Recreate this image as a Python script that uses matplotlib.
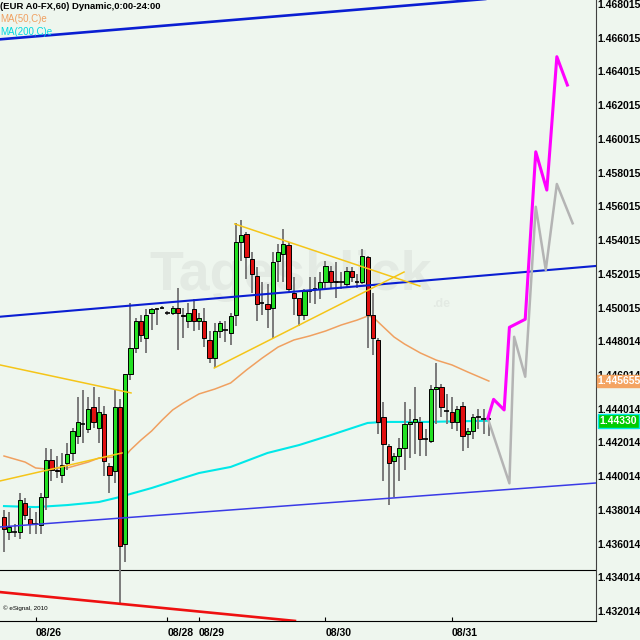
import matplotlib
matplotlib.use('Agg')
import matplotlib.pyplot as plt
import matplotlib.transforms as mtransforms
import numpy as np

plt.rcParams['font.family'] = ['Liberation Sans', 'DejaVu Sans']

# --- VELAS HORARIAS EUR/USD ---
apertura = [1.4376, 1.4367, 1.4367, 1.4367, 1.4384, 1.4375, 1.4372, 1.4371, 1.4388, 1.4410,
            1.4404, 1.4401, 1.4408, 1.4414, 1.4424, 1.4431, 1.4428, 1.4441, 1.4429, 1.4437,
            1.4406, 1.4403, 1.4441, 1.4360, 1.4461, 1.4476, 1.4492, 1.4482, 1.4497, 1.4499,
            1.4500, 1.4497, 1.4497, 1.4500, 1.4496, 1.4492, 1.4499, 1.4492, 1.4492, 1.4481,
            1.4470, 1.4486, 1.4487, 1.4485, 1.4496, 1.4539, 1.4544, 1.4529, 1.4519, 1.4503,
            1.4502, 1.4500, 1.4528, 1.4532, 1.4537, 1.4509, 1.4506, 1.4496, 1.4510, 1.4511,
            1.4511, 1.4515, 1.4522, 1.4516, 1.4515, 1.4514, 1.4522, 1.4515, 1.4515, 1.4530,
            1.4496, 1.4481, 1.4435, 1.4418, 1.4409, 1.4412, 1.4417, 1.4431, 1.4432, 1.4432,
            1.4422, 1.4421, 1.4452, 1.4453, 1.4439, 1.4438, 1.4432, 1.4442, 1.4425, 1.4427,
            1.4435, 1.4434, 1.4434]
maximo = [1.4380, 1.4379, 1.4372, 1.4390, 1.4387, 1.4381, 1.4379, 1.4390, 1.4417, 1.4416,
          1.4412, 1.4414, 1.4420, 1.4429, 1.4447, 1.4451, 1.4447, 1.4453, 1.4447, 1.4442,
          1.4408, 1.4451, 1.4446, 1.4461, 1.4503, 1.4494, 1.4496, 1.4499, 1.4500, 1.4500,
          1.4501, 1.4498, 1.4501, 1.4512, 1.4500, 1.4503, 1.4505, 1.4497, 1.4500, 1.4486,
          1.4491, 1.4492, 1.4492, 1.4497, 1.4550, 1.4552, 1.4545, 1.4533, 1.4524, 1.4515,
          1.4514, 1.4533, 1.4538, 1.4547, 1.4539, 1.4518, 1.4506, 1.4511, 1.4518, 1.4518,
          1.4521, 1.4528, 1.4525, 1.4527, 1.4521, 1.4524, 1.4524, 1.4520, 1.4535, 1.4531,
          1.4509, 1.4482, 1.4444, 1.4419, 1.4414, 1.4423, 1.4444, 1.4440, 1.4453, 1.4435,
          1.4428, 1.4454, 1.4467, 1.4455, 1.4449, 1.4447, 1.4442, 1.4444, 1.4429, 1.4437,
          1.4440, 1.4440, 1.4437]
minimo = [1.4355, 1.4362, 1.4364, 1.4363, 1.4374, 1.4366, 1.4366, 1.4366, 1.4380, 1.4397,
          1.4399, 1.4396, 1.4404, 1.4409, 1.4419, 1.4420, 1.4426, 1.4429, 1.4420, 1.4400,
          1.4390, 1.4396, 1.4325, 1.4349, 1.4457, 1.4473, 1.4480, 1.4473, 1.4487, 1.4490,
          1.4499, 1.4496, 1.4496, 1.4475, 1.4482, 1.4488, 1.4486, 1.4487, 1.4477, 1.4467,
          1.4464, 1.4482, 1.4480, 1.4478, 1.4489, 1.4528, 1.4517, 1.4509, 1.4492, 1.4496,
          1.4488, 1.4482, 1.4515, 1.4515, 1.4509, 1.4496, 1.4489, 1.4493, 1.4503, 1.4502,
          1.4505, 1.4511, 1.4511, 1.4506, 1.4511, 1.4512, 1.4515, 1.4512, 1.4514, 1.4476,
          1.4472, 1.4425, 1.4397, 1.4383, 1.4388, 1.4397, 1.4404, 1.4411, 1.4413, 1.4412,
          1.4412, 1.4420, 1.4431, 1.4435, 1.4431, 1.4428, 1.4427, 1.4415, 1.4417, 1.4422,
          1.4428, 1.4425, 1.4424]
cierre = [1.4369, 1.4370, 1.4367, 1.4386, 1.4377, 1.4372, 1.4372, 1.4388, 1.4410, 1.4404,
          1.4403, 1.4407, 1.4413, 1.4427, 1.4432, 1.4431, 1.4440, 1.4432, 1.4438, 1.4409,
          1.4401, 1.4441, 1.4359, 1.4461, 1.4476, 1.4492, 1.4484, 1.4496, 1.4499, 1.4499,
          1.4500, 1.4497, 1.4500, 1.4497, 1.4495, 1.4497, 1.4492, 1.4494, 1.4482, 1.4470,
          1.4486, 1.4491, 1.4487, 1.4495, 1.4539, 1.4543, 1.4530, 1.4520, 1.4502, 1.4503,
          1.4499, 1.4527, 1.4533, 1.4538, 1.4511, 1.4506, 1.4496, 1.4510, 1.4510, 1.4511,
          1.4515, 1.4525, 1.4515, 1.4515, 1.4515, 1.4522, 1.4518, 1.4515, 1.4531, 1.4496,
          1.4482, 1.4432, 1.4419, 1.4408, 1.4412, 1.4417, 1.4431, 1.4432, 1.4434, 1.4422,
          1.4422, 1.4452, 1.4453, 1.4441, 1.4439, 1.4432, 1.4440, 1.4424, 1.4427, 1.4435,
          1.4435, 1.4434, 1.4434]

# --- MEDIAS MOVILES (indice de vela, valor) ---
ma50_idx = [0, 4, 6, 8, 12, 16, 18, 21, 22, 23, 24, 26, 28, 30, 32, 34, 37, 40, 43, 46,
            49, 52, 55, 58, 61, 64, 67, 69, 70, 72, 74, 76, 79, 82, 85, 88, 92]
ma50_val = [1.44121, 1.44085, 1.44050, 1.44044, 1.44050, 1.44085, 1.44109, 1.44115, 1.44103,
            1.44121, 1.44157, 1.44216, 1.44269, 1.44334, 1.44394, 1.44435, 1.44489, 1.44518,
            1.44554, 1.44631, 1.44702, 1.44767, 1.44809, 1.44833, 1.44862, 1.44898, 1.44927,
            1.44951, 1.44945, 1.44886, 1.44827, 1.44785, 1.44732, 1.44690, 1.44661, 1.44619,
            1.445655]
ma200_idx = [0, 6, 12, 18, 22, 24, 28, 31, 37, 43, 50, 56, 62, 69, 72, 80, 85, 92]
ma200_val = [1.43824, 1.43818, 1.43830, 1.43848, 1.43878, 1.43896, 1.43931, 1.43961, 1.44020,
             1.44056, 1.44139, 1.44186, 1.44245, 1.44317, 1.44323, 1.44323, 1.44326, 1.44330]

# --- LINEAS DE TENDENCIA (extremos: indice, precio) ---
azul_sup_x, azul_sup_y = [-0.76, 91.3], [1.46592, 1.46831]
azul_med_x, azul_med_y = [-0.76, 112.33], [1.44947, 1.45248]
azul_inf_x, azul_inf_y = [-0.76, 112.33], [1.43700, 1.43961]
roja_x, roja_y = [-0.76, 55.2], [1.43314, 1.43143]
amarilla1_x, amarilla1_y = [-0.76, 24.1], [1.44661, 1.44495]
amarilla2_x, amarilla2_y = [-0.76, 22.4], [1.43973, 1.44139]
triang_sup_x, triang_sup_y = [43.8, 78.9], [1.45497, 1.45129]
triang_inf_x, triang_inf_y = [39.9, 75.9], [1.44643, 1.45212]
nivel_negro = 1.43445

# --- PROYECCIONES ---
magenta_x = [91.8, 92.9, 94.9, 95.9, 98.9, 100.9, 103.0, 104.9, 106.9]
magenta_y = [1.44344, 1.44457, 1.44394, 1.44884, 1.44932, 1.45925, 1.45698, 1.46489, 1.46321]
gris_x = [91.8, 95.9, 96.8, 98.9, 100.9, 102.8, 104.9, 107.9]
gris_y = [1.44344, 1.43959, 1.44828, 1.44591, 1.45599, 1.45224, 1.45734, 1.45501]

# --- EJES ---
fechas_idx = [6, 31, 37, 61, 85]
fechas = ['08/26', '08/28', '08/29', '08/30', '08/31']
precios_txt = ['1.468015', '1.466015', '1.464015', '1.462015', '1.460015', '1.458015',
               '1.456015', '1.454015', '1.452015', '1.450015', '1.448014', '1.446014',
               '1.444014', '1.442014', '1.440014', '1.438014', '1.436014', '1.434014',
               '1.432014']

fondo = '#eef6ee'
fig = plt.figure(figsize=(6.4, 6.4), dpi=100, facecolor=fondo)
ax = fig.add_axes([0, 1 - 621 / 640, 596 / 640, 621 / 640])
ax.set_facecolor(fondo)
ax.set_xlim(-0.76, 112.33)
ax.set_ylim(1.431425, 1.468252)

# marca de agua
ax.text(0.25, 0.555, 'Tagesblick', transform=ax.transAxes, fontsize=40, fontweight='bold',
        color='#e3eae3', ha='left', va='center', zorder=0)
ax.text(0.725, 0.51, '.de', transform=ax.transAxes, fontsize=9, fontweight='bold',
        color='#e3eae3', ha='left', va='center', zorder=0)

# medias moviles
ax.plot(ma200_idx, ma200_val, color='#00e8e8', lw=1.5, zorder=2)
ax.plot(ma50_idx, ma50_val, color='#f0a060', lw=1.1, zorder=2)

# velas
o = np.array(apertura)
c = np.array(cierre)
idx = np.arange(len(o))
ax.vlines(idx, minimo, maximo, color='#7a7a7a', lw=1.4, zorder=3)
sube = c > o
baja = c < o
igual = c == o
ax.bar(idx[sube], (c - o)[sube], bottom=o[sube], width=0.8, color='#22e022',
       edgecolor='black', lw=0.7, zorder=4)
ax.bar(idx[baja], (o - c)[baja], bottom=c[baja], width=0.8, color='#e01010',
       edgecolor='black', lw=0.7, zorder=4)
ax.hlines(o[igual], idx[igual] - 0.42, idx[igual] + 0.42, color='black', lw=1.2, zorder=4)

# lineas de tendencia
ax.axhline(nivel_negro, color='black', lw=0.8, zorder=2)
ax.plot(azul_sup_x, azul_sup_y, color='#0a1ed2', lw=1.9, zorder=5)
ax.plot(azul_med_x, azul_med_y, color='#0a1ed2', lw=1.5, zorder=5)
ax.plot(azul_inf_x, azul_inf_y, color='#3a3ae6', lw=1.1, zorder=5)
ax.plot(roja_x, roja_y, color='#ee1010', lw=1.9, zorder=5)
for xs, ys in [(amarilla1_x, amarilla1_y), (amarilla2_x, amarilla2_y),
               (triang_sup_x, triang_sup_y), (triang_inf_x, triang_inf_y)]:
    ax.plot(xs, ys, color='#f5c518', lw=1.1, zorder=5)

# proyecciones
ax.plot(gris_x, gris_y, color='#b4b4b4', lw=1.8, zorder=6)
ax.plot(magenta_x, magenta_y, color='#ff00ff', lw=2.2, zorder=7)

# ejes y etiquetas
for s in ['top', 'left']:
    ax.spines[s].set_visible(False)
ax.spines['bottom'].set_color('black')
ax.spines['right'].set_color('#404040')
ax.yaxis.tick_right()
ax.set_yticks([float(t) for t in precios_txt])
ax.set_yticklabels(precios_txt, fontsize=7.5, fontweight='bold')
ax.tick_params(axis='y', length=0, pad=1)
ax.set_xticks(fechas_idx)
ax.set_xticklabels(fechas, fontsize=7.5, fontweight='bold', ha='left')
ax.tick_params(axis='x', direction='in', length=3, pad=5)

trans = mtransforms.blended_transform_factory(ax.transAxes, ax.transData)
ax.text(1.003, ma50_val[-1], '1.445655', transform=trans, fontsize=7.5, fontweight='bold',
        color='white', va='center', ha='left', clip_on=False, zorder=10,
        bbox=dict(boxstyle='square,pad=0.12', fc='#f4a462', ec='#f4a462'))
ax.text(1.006, ma200_val[-1], '1.44330', transform=trans, fontsize=7.5, fontweight='bold',
        color='white', va='center', ha='left', clip_on=False, zorder=10,
        bbox=dict(boxstyle='square,pad=0.18', fc='#00cc00', ec='#00e8e8', lw=1))

# textos de cabecera
fig.text(0.0, 0.99, '(EUR A0-FX,60) Dynamic,0:00-24:00', fontsize=6.8, fontweight='bold',
         color='black', va='center', ha='left')
fig.text(0.0, 0.97, 'MA(50,C)e', fontsize=7, color='#f0a060', va='center', ha='left')
fig.text(0.0, 0.95, 'MA(200,C)e', fontsize=7, color='#00d8e0', va='center', ha='left')
fig.text(0.004, 0.05, '\u00a9 eSignal, 2010', fontsize=4.5, color='black', va='center', ha='left')

fig.savefig('out.png', dpi=100, facecolor=fondo)
